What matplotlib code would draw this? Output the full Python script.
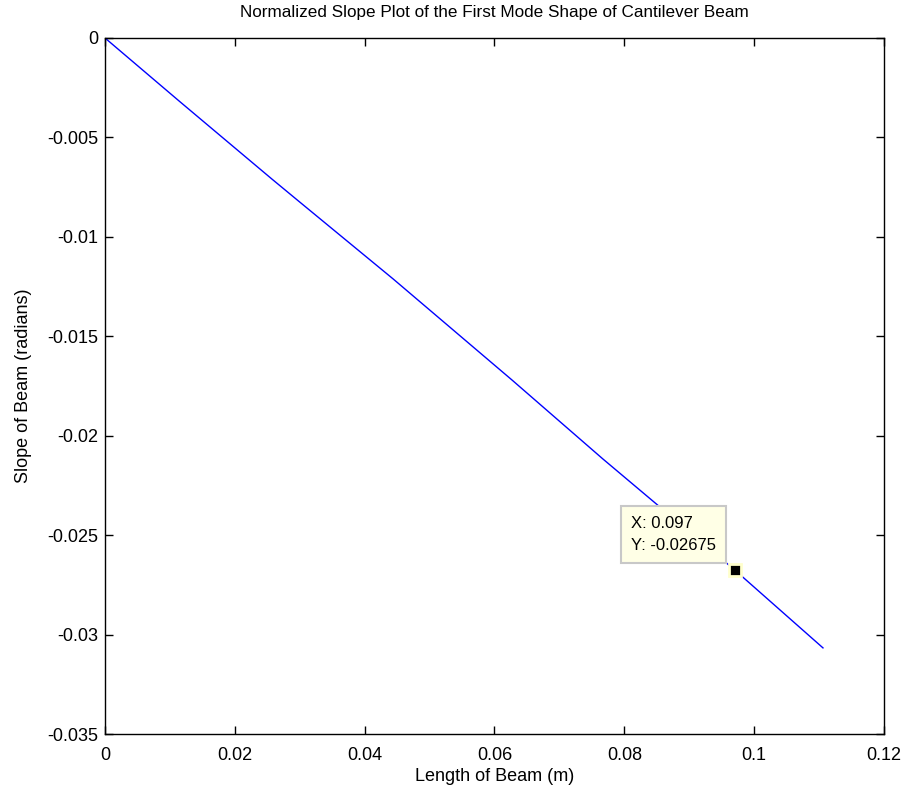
import numpy as np
import matplotlib.pyplot as plt

plt.rcParams['font.family'] = ['Liberation Sans', 'DejaVu Sans']

# slope of the first mode along the beam
length_m = [0.0, 0.0116, 0.0257, 0.0300, 0.0444, 0.0627, 0.0767, 0.0970, 0.1106]
slope_rad = [0.0, -0.00322, -0.00709, -0.00825, -0.01212, -0.0172, -0.02117, -0.02675, -0.03067]

tip_x = 0.097
tip_y = -0.02675

xticks = [0, 0.02, 0.04, 0.06, 0.08, 0.1, 0.12]
xtick_labels = ['0', '0.02', '0.04', '0.06', '0.08', '0.1', '0.12']
yticks = [0, -0.005, -0.01, -0.015, -0.02, -0.025, -0.03, -0.035]
ytick_labels = ['0', '-0.005', '-0.01', '-0.015', '-0.02', '-0.025', '-0.03', '-0.035']

fig = plt.figure(figsize=(9.05, 7.93), dpi=100)
ax = fig.add_axes([0.116, 0.0744, 0.8608, 0.8777])

ax.plot(length_m, slope_rad, color='#0000ff', lw=1.0)

ax.set_xlim(0, 0.12)
ax.set_ylim(-0.035, 0)
ax.set_xticks(xticks)
ax.set_xticklabels(xtick_labels)
ax.set_yticks(yticks)
ax.set_yticklabels(ytick_labels)
ax.tick_params(direction='in', length=6, width=1, top=True, right=True,
               labelsize=13, colors='black')
ax.tick_params(axis='x', pad=9)
ax.tick_params(axis='y', pad=5)
for s in ax.spines.values():
    s.set_linewidth(1.0)

ax.set_title('Normalized Slope Plot of the First Mode Shape of Cantilever Beam',
             fontsize=12.3, pad=15)
ax.set_xlabel('Length of Beam (m)', fontsize=13, labelpad=3)
ax.set_ylabel('Slope of Beam (radians)', fontsize=13, labelpad=11)

# data cursor
ax.plot([tip_x], [tip_y], marker='s', ms=8, color='black',
        markeredgecolor='#ffffcc', markeredgewidth=2, zorder=5)
ax.annotate('X: %.3f\nY: %.5f' % (tip_x, tip_y), xy=(tip_x, tip_y),
            xytext=(-104, 17), textcoords='offset pixels',
            fontsize=12, va='bottom', ha='left', linespacing=1.6,
            bbox=dict(boxstyle='square,pad=0.6', fc='#ffffe6', ec='#c8c8c8', lw=1.5),
            zorder=6)

fig.savefig('out.png', dpi=100)
